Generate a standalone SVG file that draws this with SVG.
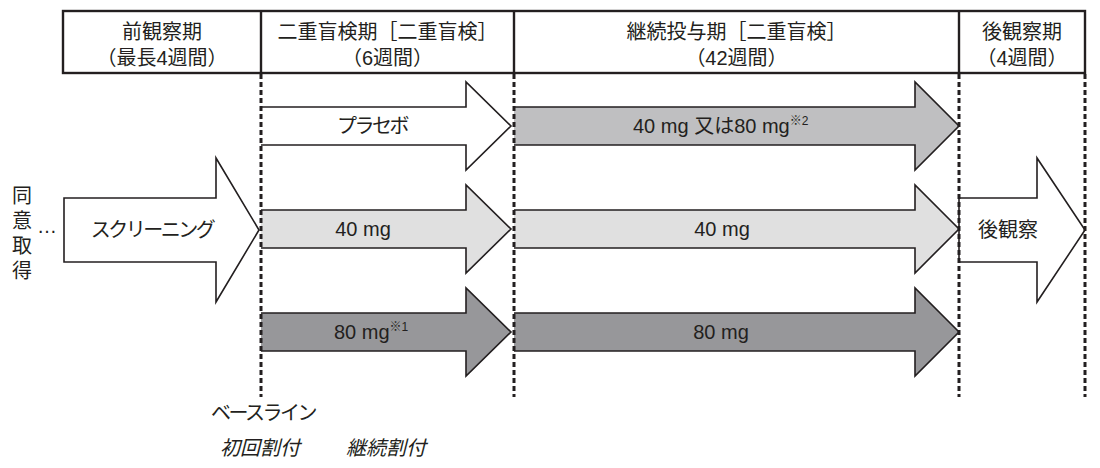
<svg xmlns="http://www.w3.org/2000/svg" width="1100" height="468" viewBox="0 0 1100 468">
<style>
  text { font-family: "Liberation Sans", "Noto Sans CJK JP", sans-serif; font-size: 20px; fill: #231f20; }
  .c { text-anchor: middle; }
  .it { font-style: italic; }
  .kana { letter-spacing: -2.5px; }
  .sup { font-size: 12px; }
  .arw { stroke: #231f20; stroke-width: 1.6; stroke-linejoin: miter; }
  .white { fill: #ffffff; }
  .g1 { fill: #bfbfc1; }
  .g2 { fill: #e0e0e0; }
  .g3 { fill: #97979a; }
  .hdr { fill: none; stroke: #231f20; stroke-width: 2.4; }
  .guide { stroke: #231f20; stroke-width: 3; stroke-dasharray: 5 3; fill: none; }
</style>

<g id="header">
  <rect class="hdr" x="63" y="11" width="1022" height="62"/>
  <line class="hdr" x1="261" y1="11" x2="261" y2="73"/>
  <line class="hdr" x1="514" y1="11" x2="514" y2="73"/>
  <line class="hdr" x1="959" y1="11" x2="959" y2="73"/>
  <text class="c" x="162" y="39">前観察期</text>
  <text class="c" x="162" y="65">（最長4週間）</text>
  <text class="c" x="387.5" y="39">二重盲検期［二重盲検］</text>
  <text class="c" x="387.5" y="65">（6週間）</text>
  <text class="c" x="736.5" y="39">継続投与期［二重盲検］</text>
  <text class="c" x="736.5" y="65">（42週間）</text>
  <text class="c" x="1022" y="39">後観察期</text>
  <text class="c" x="1022" y="65">（4週間）</text>
</g>

<g id="consent">
  <text class="c" x="22" y="203">同</text>
  <text class="c" x="22" y="228">意</text>
  <text class="c" x="22" y="253">取</text>
  <text class="c" x="22" y="278">得</text>
  <text x="37" y="233">…</text>
</g>

<g id="screening">
  <path class="arw white" d="M64,198 H216 V158 L259,230 L216,302 V262 H64 Z"/>
  <text class="c kana" x="152" y="237">スクリーニング</text>
</g>

<g id="placebo">
  <path class="arw white" d="M261,107 H466 V82 L511,126 L466,170 V145 H261"/>
  <text class="c kana" x="372" y="133">プラセボ</text>
</g>

<g id="db-40mg">
  <path class="arw g2" d="M261,210 H466 V185 L511,229 L466,273 V248 H261"/>
  <text class="c" x="363" y="236">40 mg</text>
</g>

<g id="db-80mg">
  <path class="arw g3" d="M261,313 H466 V288 L511,332 L466,376 V351 H261"/>
  <text x="334" y="339">80 mg<tspan class="sup" dy="-8">※1</tspan></text>
</g>

<g id="ext-40or80mg">
  <path class="arw g1" d="M514,107 H915 V82 L959,126 L915,170 V145 H514"/>
  <text x="633" y="133">40 mg 又は80 mg<tspan class="sup" dy="-8">※2</tspan></text>
</g>

<g id="ext-40mg">
  <path class="arw g2" d="M514,210 H915 V185 L959,229 L915,273 V248 H514"/>
  <text class="c" x="722" y="236">40 mg</text>
</g>

<g id="ext-80mg">
  <path class="arw g3" d="M514,313 H915 V288 L959,332 L915,376 V351 H514"/>
  <text class="c" x="721" y="339">80 mg</text>
</g>

<g id="followup">
  <path class="arw white" d="M959,198 H1037 V158 L1085,230 L1037,302 V262 H959 Z"/>
  <text class="c" x="1008" y="237">後観察</text>
</g>

<g id="connectors">
  <line class="guide" x1="261" y1="74" x2="261" y2="397"/>
  <line class="guide" x1="514" y1="74" x2="514" y2="397"/>
  <line class="guide" x1="959" y1="74" x2="959" y2="397"/>
  <line class="guide" x1="1085" y1="74" x2="1085" y2="397"/>
</g>

<g id="labels">
  <text class="c kana" x="263" y="420">ベースライン</text>
  <text class="c it" x="260" y="455">初回割付</text>
  <text class="c it" x="386" y="455">継続割付</text>
</g>
</svg>
